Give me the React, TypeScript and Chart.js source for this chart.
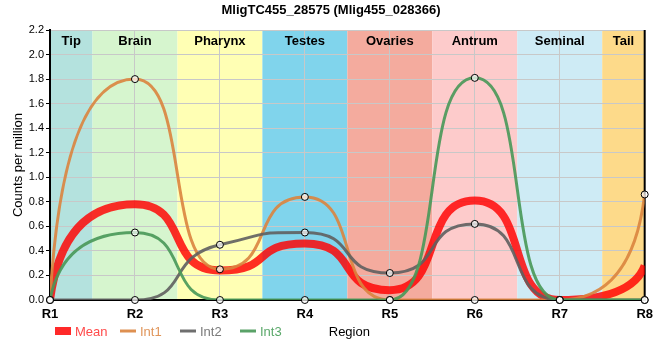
import React, { useEffect, useRef } from "react";
import { Chart, registerables } from "chart.js";

Chart.register(...registerables);

const categories = ["R1", "R2", "R3", "R4", "R5", "R6", "R7", "R8"];
const regionNames = ["Tip", "Brain", "Pharynx", "Testes", "Ovaries", "Antrum", "Seminal", "Tail"];
const regionColors = ["#b4e2de", "#d6f5ce", "#ffffb4", "#80d4ec", "#f4ab9e", "#fdcbcb", "#ceebf5", "#fdda8a"];

const meanValues = [0, 0.78, 0.24, 0.46, 0.08, 0.81, 0, 0.28];
const int1Values = [0, 1.8, 0.25, 0.84, 0, 0, 0, 0.86];
const int2Values = [0, 0, 0.45, 0.55, 0.22, 0.62, 0, 0];
const int3Values = [0, 0.55, 0, 0, 0, 1.81, 0, 0];

const yTicks = [0, 0.2, 0.4, 0.6, 0.8, 1.0, 1.2, 1.4, 1.6, 1.8, 2.0, 2.2];

const titleText = "MligTC455_28575 (Mlig455_028366)";
const yTitle = "Counts per million";
const xTitle = "Region";

const FONT = "'Liberation Sans', Arial, sans-serif";
const ARM = 0.65;
const ARM_END = 0.85;

const seriesStyles = [
  { name: "Mean", line: "rgba(255,0,0,0.82)", text: "#ff4a4a", width: 8 },
  { name: "Int1", line: "rgba(218,132,62,0.9)", text: "#e0955a", width: 3 },
  { name: "Int2", line: "rgba(95,95,95,0.9)", text: "#7a7a7a", width: 3 },
  { name: "Int3", line: "rgba(72,152,88,0.9)", text: "#5aa86a", width: 3 },
];

function clampBetween(v: number, a: number, b: number) {
  return Math.min(Math.max(v, Math.min(a, b)), Math.max(a, b));
}

function applySpline(pts: any[]) {
  const n = pts.length;
  if (n < 3) return;
  for (let i = 1; i < n - 1; i++) {
    const p = pts[i], l = pts[i - 1], r = pts[i + 1];
    const hl = p.x - l.x, hr = r.x - p.x;
    const slope = (r.y - l.y) / (r.x - l.x);
    let ly = p.y - ARM * hl * slope;
    let ry = p.y + ARM * hr * slope;
    if ((ly > l.y && ly > p.y) || (ly < l.y && ly < p.y)) {
      ly = ly > p.y ? Math.max(l.y, p.y) : Math.min(l.y, p.y);
      ry = p.y - (ly - p.y) * (hr / hl);
    }
    if ((ry > r.y && ry > p.y) || (ry < r.y && ry < p.y)) {
      ry = ry > p.y ? Math.max(r.y, p.y) : Math.min(r.y, p.y);
      ly = p.y - (ry - p.y) * (hl / hr);
    }
    p.cp1x = p.x - ARM * hl;
    p.cp1y = ly;
    p.cp2x = p.x + ARM * hr;
    p.cp2y = ry;
  }
  const k = ARM_END / ARM;
  // first segment: quadratic toward a stretched incoming control of point 1
  const p0 = pts[0], p1 = pts[1];
  const qx = p1.x - (p1.x - p1.cp1x) * k;
  const qy = clampBetween(p1.y - (p1.y - p1.cp1y) * k, p0.y, p1.y);
  p0.cp2x = p0.x + (2 / 3) * (qx - p0.x);
  p0.cp2y = p0.y + (2 / 3) * (qy - p0.y);
  p1.cp1x = p1.x + (2 / 3) * (qx - p1.x);
  p1.cp1y = p1.y + (2 / 3) * (qy - p1.y);
  // last segment
  const pa = pts[n - 2], pb = pts[n - 1];
  const qx2 = pa.x + (pa.cp2x - pa.x) * k;
  const qy2 = clampBetween(pa.y + (pa.cp2y - pa.y) * k, pa.y, pb.y);
  pa.cp2x = pa.x + (2 / 3) * (qx2 - pa.x);
  pa.cp2y = pa.y + (2 / 3) * (qy2 - pa.y);
  pb.cp1x = pb.x + (2 / 3) * (qx2 - pb.x);
  pb.cp1y = pb.y + (2 / 3) * (qy2 - pb.y);
  p0.cp1x = p0.x; p0.cp1y = p0.y;
  pb.cp2x = pb.x; pb.cp2y = pb.y;
}

const overlayPlugin = {
  id: "overlay",
  beforeDraw(chart: any) {
    const { ctx, chartArea, scales } = chart;
    const xs = scales.x;
    const n = categories.length;
    ctx.save();
    for (let i = 0; i < n; i++) {
      const x0 = i === 0 ? chartArea.left : (xs.getPixelForValue(i - 1) + xs.getPixelForValue(i)) / 2;
      const x1 = i === n - 1 ? chartArea.right : (xs.getPixelForValue(i) + xs.getPixelForValue(i + 1)) / 2;
      ctx.fillStyle = regionColors[i];
      ctx.fillRect(x0, chartArea.top, x1 - x0, chartArea.bottom - chartArea.top);
    }
    ctx.restore();
  },
  beforeDatasetsDraw(chart: any) {
    const { ctx, chartArea } = chart;
    chart.data.datasets.forEach((ds: any, i: number) => {
      if (!ds.customSpline) return;
      const meta = chart.getDatasetMeta(i);
      const line: any = meta.dataset;
      if (!line) return;
      if (typeof line.updateControlPoints === "function") line.updateControlPoints(chartArea, "x");
      applySpline(meta.data as any[]);
      line._path = undefined;
    });
    ctx.save();
    ctx.strokeStyle = "#000";
    ctx.lineWidth = 2;
    ctx.beginPath();
    ctx.moveTo(chartArea.right, chartArea.top);
    ctx.lineTo(chartArea.right, chartArea.bottom + 1);
    ctx.stroke();
    ctx.restore();
  },
  afterDraw(chart: any) {
    const { ctx, chartArea, scales } = chart;
    const xs = scales.x;
    const n = categories.length;
    ctx.save();
    ctx.fillStyle = "#000";
    ctx.font = `bold 13px ${FONT}`;
    ctx.textAlign = "center";
    ctx.textBaseline = "middle";
    for (let i = 0; i < n; i++) {
      const x0 = i === 0 ? chartArea.left : (xs.getPixelForValue(i - 1) + xs.getPixelForValue(i)) / 2;
      const x1 = i === n - 1 ? chartArea.right : (xs.getPixelForValue(i) + xs.getPixelForValue(i + 1)) / 2;
      ctx.fillText(regionNames[i], (x0 + x1) / 2, chartArea.top + 11);
    }
    ctx.font = `bold 13px ${FONT}`;
    ctx.fillText(titleText, 331, 10);
    ctx.font = `13px ${FONT}`;
    ctx.save();
    ctx.translate(18, (chartArea.top + chartArea.bottom) / 2);
    ctx.rotate(-Math.PI / 2);
    ctx.fillText(yTitle, 0, 0);
    ctx.restore();
    ctx.fillText(xTitle, (chartArea.left + chartArea.right) / 2 + 2, 332);
    const legendY = 331;
    const starts = [55, 120, 180, 240];
    ctx.textAlign = "left";
    seriesStyles.forEach((s, i) => {
      const x = starts[i];
      if (i === 0) {
        ctx.fillStyle = "rgba(255,30,30,0.95)";
        ctx.fillRect(x, legendY - 4, 16, 8);
      } else {
        ctx.strokeStyle = s.line;
        ctx.lineWidth = 3;
        ctx.beginPath();
        ctx.moveTo(x, legendY);
        ctx.lineTo(x + 16, legendY);
        ctx.stroke();
      }
      ctx.fillStyle = s.text;
      ctx.fillText(s.name, x + 20, legendY + 1);
    });
    ctx.restore();
  },
};

export default function App() {
  const canvasRef = useRef<HTMLCanvasElement | null>(null);

  useEffect(() => {
    const canvas = canvasRef.current;
    if (!canvas) return;
    const seriesData = [meanValues, int1Values, int2Values, int3Values];
    const lineSets = seriesData.map((d, i) => ({
      label: seriesStyles[i].name,
      data: d,
      customSpline: true,
      borderColor: seriesStyles[i].line,
      borderWidth: seriesStyles[i].width,
      backgroundColor: "transparent",
      pointRadius: 0,
      pointHoverRadius: 0,
      tension: 0.4,
      fill: false,
      clip: 0,
      order: 10 - i,
    }));
    const pointSets = seriesData.slice(1).map((d, i) => ({
      label: seriesStyles[i + 1].name + " points",
      data: d,
      showLine: false,
      pointRadius: 3.5,
      pointBorderWidth: 1,
      pointBorderColor: "#000",
      pointBackgroundColor: "rgba(255,255,255,0.7)",
      clip: false,
      order: 0,
    }));
    const chart = new Chart(canvas, {
      type: "line",
      data: { labels: categories, datasets: [...lineSets, ...pointSets] as any },
      plugins: [overlayPlugin],
      options: {
        animation: false,
        responsive: false,
        events: [],
        layout: { padding: { top: 30, right: 9, bottom: 0, left: 0 } },
        plugins: { legend: { display: false }, title: { display: false }, tooltip: { enabled: false } },
        scales: {
          x: {
            type: "category",
            offset: false,
            grid: { color: "#c8c8c8", drawTicks: false, lineWidth: 1 },
            border: { display: true, color: "#000", width: 2 },
            ticks: { color: "#000", font: { family: FONT, size: 13, weight: "bold" }, padding: 7, maxRotation: 0 },
            afterFit: (s: any) => { s.height = 60; },
          },
          y: {
            min: 0,
            max: 2.2,
            afterBuildTicks: (s: any) => { s.ticks = yTicks.map((v) => ({ value: v })); },
            grid: { color: "#c8c8c8", tickColor: "#000", tickLength: 4, lineWidth: 1 },
            border: { display: true, color: "#000", width: 2 },
            ticks: {
              color: "#000",
              font: { family: FONT, size: 11 },
              padding: 2,
              callback: (v: any) => Number(v).toFixed(1),
            },
            afterFit: (s: any) => { s.width = 50; },
          },
        },
      } as any,
    });
    return () => chart.destroy();
  }, []);

  return (
    <div style={{ position: "absolute", left: 0, top: 0, width: 660, height: 360, background: "#fff" }}>
      <canvas ref={canvasRef} width={660} height={360} style={{ display: "block" }} />
    </div>
  );
}
